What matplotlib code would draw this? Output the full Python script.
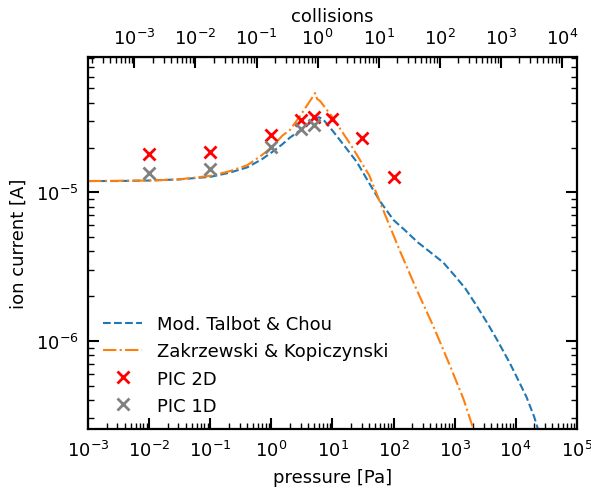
import numpy as np
import matplotlib
matplotlib.use("Agg")
import matplotlib.pyplot as plt

# Mod. Talbot & Chou curve
talbot_p = [1e-3, 3e-3, 1e-2, 3e-2, 0.1, 0.2, 0.4, 0.7, 1.0, 1.5, 2.0, 3.0, 4.0, 5.0, 6.0,
            7.0, 10, 15, 25, 40, 60, 100, 150, 250, 400, 650, 1000, 1500, 2300, 3500,
            5000, 8000, 1.1e4, 1.5e4, 2.0e4, 2.5e4]
talbot_i = [1.19e-5, 1.19e-5, 1.20e-5, 1.22e-5, 1.27e-5, 1.35e-5, 1.47e-5, 1.67e-5, 1.85e-5,
            2.10e-5, 2.33e-5, 2.62e-5, 2.87e-5, 3.05e-5, 3.20e-5, 3.10e-5, 2.60e-5, 2.10e-5,
            1.60e-5, 1.15e-5, 8.7e-6, 6.5e-6, 5.6e-6, 4.6e-6, 3.95e-6, 3.37e-6, 2.75e-6,
            2.25e-6, 1.72e-6, 1.30e-6, 1.01e-6, 7.1e-7, 5.45e-7, 4.2e-7, 3.1e-7, 2.3e-7]

# Zakrzewski & Kopiczynski curve
zak_p = [1e-3, 1e-2, 3e-2, 0.1, 0.2, 0.4, 0.7, 1.0, 1.5, 2.0, 3.0, 4.0, 5.2, 5.6, 6.3,
         10, 20, 40, 65, 128, 240, 450, 840, 1400, 2100]
zak_i = [1.19e-5, 1.20e-5, 1.22e-5, 1.29e-5, 1.38e-5, 1.52e-5, 1.78e-5, 2.0e-5, 2.4e-5,
         2.62e-5, 3.3e-5, 3.95e-5, 4.65e-5, 4.25e-5, 4.1e-5, 3.2e-5, 2.08e-5, 1.3e-5,
         7.9e-6, 4.0e-6, 2.2e-6, 1.25e-6, 6.8e-7, 4.05e-7, 2.45e-7]

# PIC 2D
pic2d_p = [0.01, 0.1, 1, 3, 5, 10, 30, 100]
pic2d_i = [1.82e-5, 1.87e-5, 2.42e-5, 3.05e-5, 3.21e-5, 3.10e-5, 2.33e-5, 1.27e-5]

# PIC 1D
pic1d_p = [0.01, 0.1, 1, 3, 5]
pic1d_i = [1.34e-5, 1.44e-5, 2.02e-5, 2.65e-5, 2.82e-5]

collision_factor = 5.7  # pressure [Pa] per collision

fig = plt.figure(figsize=(5.91, 4.89), dpi=100)
ax = fig.add_axes([0.1494, 0.1207, 0.8264, 0.7617])

ax.plot(talbot_p, talbot_i, ls='--', color='#1f77b4', lw=1.5, label='Mod. Talbot & Chou')
ax.plot(zak_p, zak_i, ls='-.', color='#ff7f0e', lw=1.5, label='Zakrzewski & Kopiczynski')
ax.plot(pic2d_p, pic2d_i, ls='none', marker='x', color='red', ms=8, mew=2, label='PIC 2D')
ax.plot(pic1d_p, pic1d_i, ls='none', marker='x', color='gray', ms=8, mew=2, label='PIC 1D')

ax.set_xscale('log')
ax.set_yscale('log')
ax.set_xlim(1e-3, 1e5)
ax.set_ylim(2.55e-7, 8.2e-5)

ax.set_xlabel('pressure [Pa]', fontsize=13, labelpad=5.5)
ax.set_ylabel('ion current [A]', fontsize=13, labelpad=6)

for s in ax.spines.values():
    s.set_linewidth(1.6)

ax.tick_params(axis='both', which='major', direction='in', length=8, width=1.5, labelsize=13)
ax.tick_params(axis='both', which='minor', direction='in', length=4, width=1.0)
ax.tick_params(axis='x', which='major', pad=8)
ax.tick_params(axis='y', which='major', pad=7)
ax.tick_params(axis='y', which='both', right=True)
ax.tick_params(axis='x', which='both', top=False)
ax.xaxis.set_major_locator(matplotlib.ticker.LogLocator(base=10, numticks=20))
ax.xaxis.set_minor_locator(matplotlib.ticker.LogLocator(base=10, subs=np.arange(2, 10), numticks=20))

sec = ax.secondary_xaxis('top', functions=(lambda p: p / collision_factor,
                                           lambda c: c * collision_factor))
sec.set_xlabel('collisions', fontsize=13, labelpad=5)
sec.tick_params(axis='x', which='major', direction='in', length=8, width=1.5, labelsize=13, pad=6)
sec.tick_params(axis='x', which='minor', direction='in', length=4, width=1.0)
sec.xaxis.set_major_locator(matplotlib.ticker.LogLocator(base=10, numticks=20))
sec.xaxis.set_minor_locator(matplotlib.ticker.LogLocator(base=10, subs=np.arange(2, 10), numticks=20))

ax.legend(loc='lower left', frameon=False, fontsize=13, handlelength=2.2,
          borderaxespad=0.4, labelspacing=0.5)

fig.savefig('out.png', dpi=100)
